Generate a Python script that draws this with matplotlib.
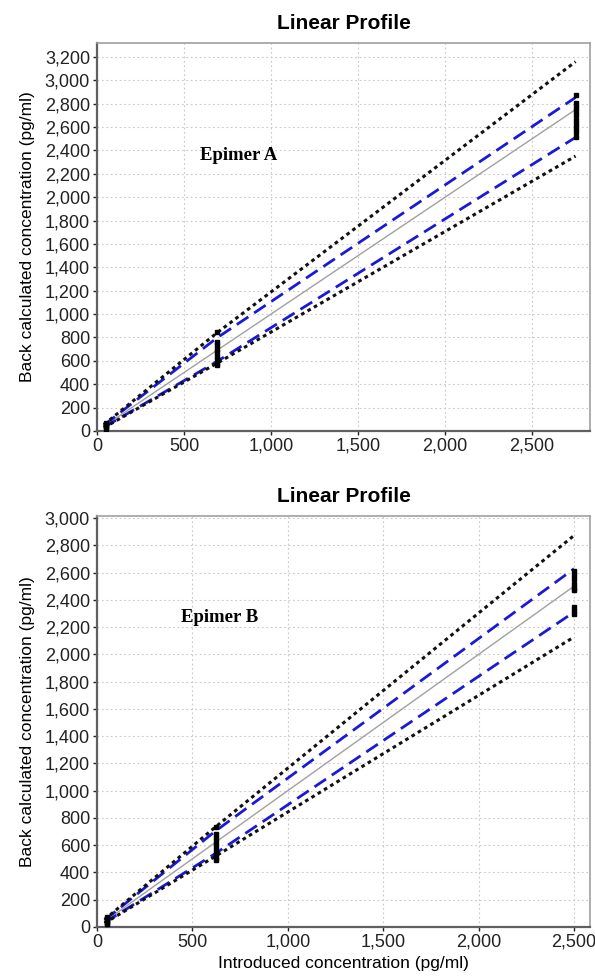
import matplotlib
matplotlib.use("Agg")
import matplotlib.pyplot as plt
from matplotlib.ticker import FuncFormatter, MultipleLocator

plt.rcParams['font.family'] = ['Liberation Sans', 'DejaVu Sans']

# Epimer A
levels_a = [40, 688, 2750]
upper_tol_a = [55, 838, 3160]
upper_acc_a = [50, 795, 2854]
lower_acc_a = [32, 593, 2512]
lower_tol_a = [28, 578, 2352]
pts_x_a = [50] * 6 + [688] * 9 + [2750] * 10
pts_y_a = [20, 30, 40, 50, 60, 70,
           849, 765, 735, 705, 675, 645, 615, 585, 565,
           2874, 2803, 2770, 2735, 2700, 2665, 2630, 2595, 2555, 2518]

# Epimer B
levels_b = [40, 622, 2500]
upper_tol_b = [55, 735, 2872]
upper_acc_b = [50, 705, 2628]
lower_acc_b = [32, 540, 2310]
lower_tol_b = [28, 520, 2127]
pts_x_b = [50] * 6 + [622] * 9 + [2500] * 9
pts_y_b = [20, 30, 40, 50, 60, 70,
           735, 685, 655, 625, 595, 565, 535, 505, 490,
           2610, 2580, 2550, 2520, 2490, 2469, 2347, 2320, 2300]

panels = [
    dict(levels=levels_a, ut=upper_tol_a, ua=upper_acc_a, la=lower_acc_a, lt=lower_tol_a,
         px=pts_x_a, py=pts_y_a, label="Epimer A", xlim=2833, ylim=3320, ymax_tick=3200,
         pos=[0.163, 0.5589, 0.8286, 0.3971], txt=(590, 2360)),
    dict(levels=levels_b, ut=upper_tol_b, ua=upper_acc_b, la=lower_acc_b, lt=lower_tol_b,
         px=pts_x_b, py=pts_y_b, label="Epimer B", xlim=2584, ylim=3015, ymax_tick=3000,
         pos=[0.163, 0.0512, 0.8286, 0.4206], txt=(440, 2270)),
]

fmt = FuncFormatter(lambda v, p: f"{int(v):,}")

fig = plt.figure(figsize=(5.95, 9.77), dpi=100)
for i, p in enumerate(panels):
    ax = fig.add_axes(p['pos'])
    lv = p['levels']
    ax.plot(lv, lv, color='#a0a0a0', lw=1.0, zorder=2)
    ax.plot(lv, p['ua'], color='#1a1ad6', lw=2.0, ls=(0, (5, 2.5)), zorder=3)
    ax.plot(lv, p['la'], color='#1a1ad6', lw=2.0, ls=(0, (5, 2.5)), zorder=3)
    ax.plot(lv, p['ut'], color='#111111', lw=2.2, ls=(0, (1.2, 1.2)), zorder=3)
    ax.plot(lv, p['lt'], color='#111111', lw=2.2, ls=(0, (1.2, 1.2)), zorder=3)
    ax.plot(p['px'], p['py'], 's', color='black', ms=3.5, zorder=4)

    ax.set_xlim(0, p['xlim'])
    ax.set_ylim(0, p['ylim'])
    ax.xaxis.set_major_locator(MultipleLocator(500))
    ax.set_yticks(range(0, p['ymax_tick'] + 1, 200))
    ax.xaxis.set_major_formatter(fmt)
    ax.yaxis.set_major_formatter(fmt)
    ax.grid(True, color='#c8c8c8', ls=(0, (1.5, 2.5)), lw=0.8, zorder=0)
    ax.tick_params(labelsize=13, colors='#222222', length=3, width=1, pad=2)
    for s in ['left', 'bottom']:
        ax.spines[s].set_color('#606060')
        ax.spines[s].set_linewidth(1.6)
    for s in ['top', 'right']:
        ax.spines[s].set_color('#a0a0a0')
        ax.spines[s].set_linewidth(1.2)
    ax.set_title("Linear Profile", fontsize=15, fontweight='bold', pad=10)
    ax.set_ylabel("Back calculated concentration (pg/ml)", fontsize=12.5, labelpad=7)
    ax.text(p['txt'][0], p['txt'][1], p['label'], family='Liberation Serif',
            fontsize=13.5, fontweight='bold', va='center')
    if i == 1:
        ax.set_xlabel("Introduced concentration (pg/ml)", fontsize=12.5, labelpad=4)

fig.savefig("out.png", dpi=100)
